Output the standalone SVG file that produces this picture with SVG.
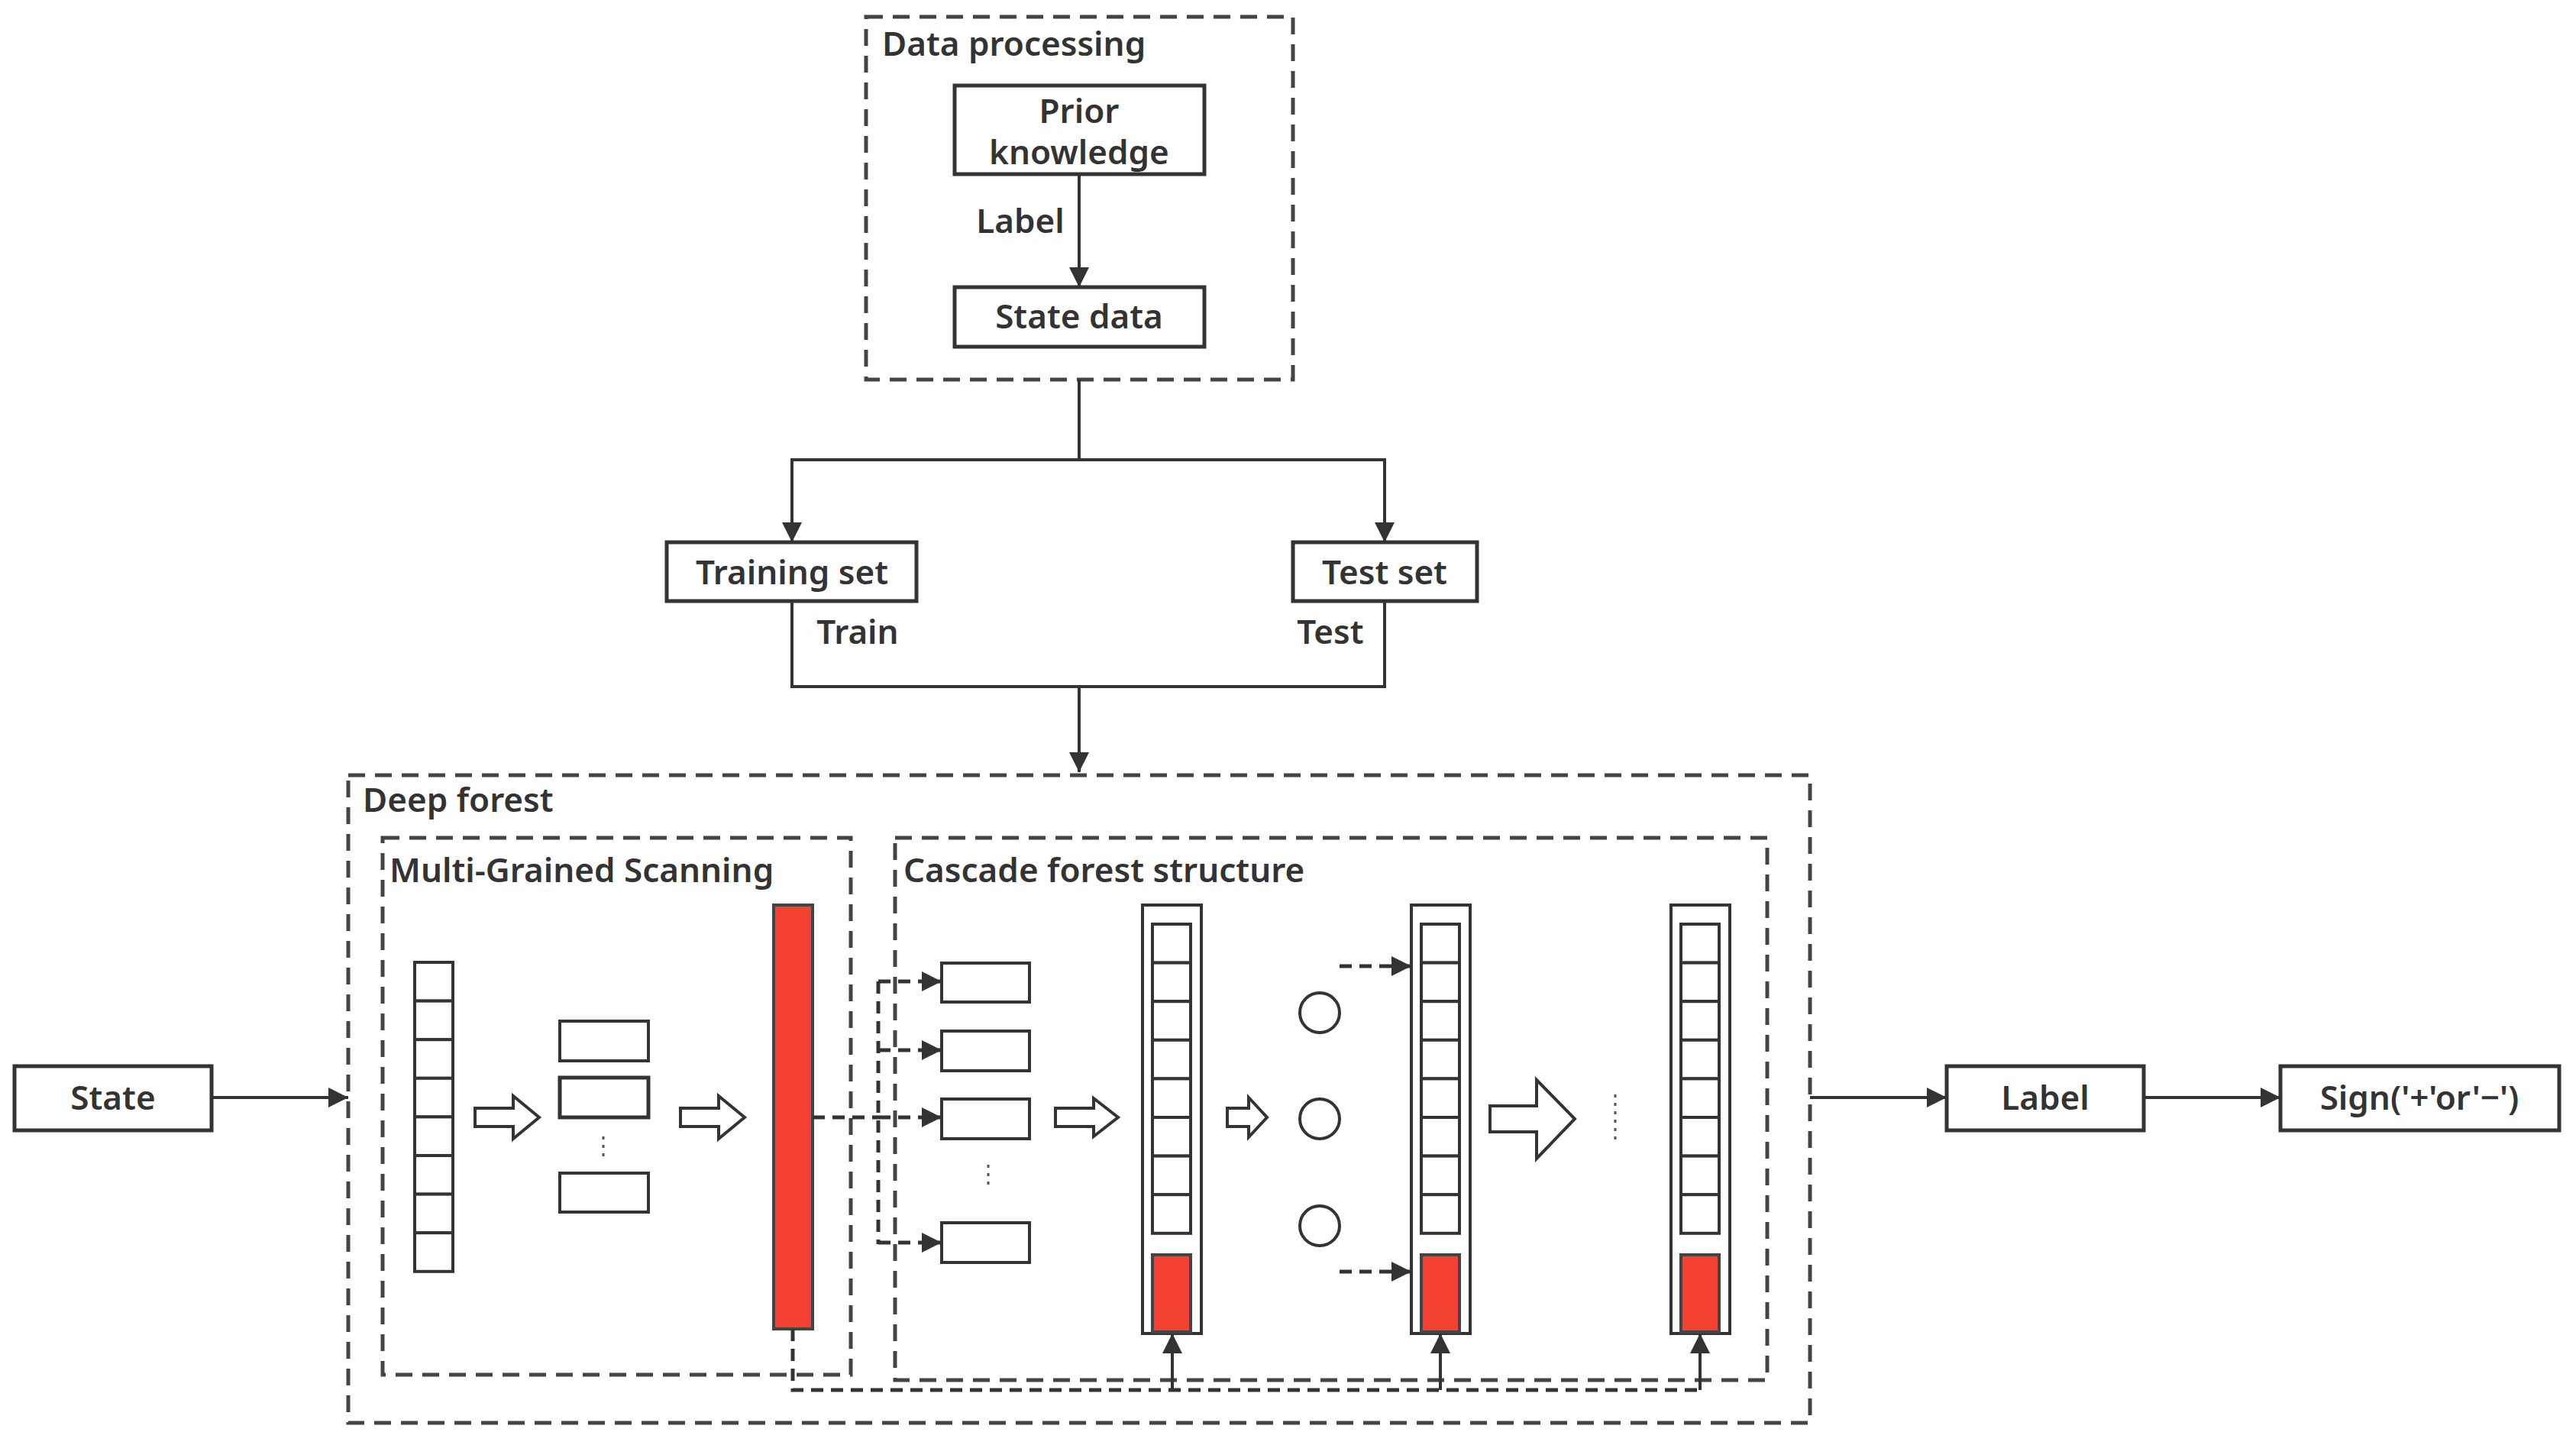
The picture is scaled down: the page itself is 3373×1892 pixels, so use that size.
<svg xmlns="http://www.w3.org/2000/svg" width="3373" height="1892" viewBox="0 0 3373 1892">
<style>
.b{fill:#fff;stroke:#333;stroke-width:5}
.d{fill:none;stroke:#444;stroke-width:5;stroke-dasharray:22 13}
.l{fill:none;stroke:#333;stroke-width:4}
.dl{fill:none;stroke:#333;stroke-width:5;stroke-dasharray:16 10}
.r{fill:#f44131;stroke:#444;stroke-width:4}
.c{fill:#fff;stroke:#333;stroke-width:4}
text{font-family:"Noto Sans","Open Sans",sans-serif;font-weight:600;font-size:44px;fill:#333}
.m{text-anchor:middle}
.dot{fill:none;stroke:#555;stroke-width:3;stroke-dasharray:4 7}
</style>
<defs>
<marker id="a" viewBox="0 0 10 10" refX="10" refY="5" markerWidth="6" markerHeight="6" orient="auto" markerUnits="userSpaceOnUse" style="overflow:visible"><path d="M0,0L10,5L0,10z" fill="#333"/></marker>
<marker id="A" viewBox="0 0 10 10" refX="10" refY="5" markerWidth="30" markerHeight="26" orient="auto" markerUnits="userSpaceOnUse"><path d="M0,0L10,5L0,10z" fill="#333"/></marker>
<g id="col"><rect class="c" x="0" y="0" width="50" height="50.6"/><rect class="c" x="0" y="50.6" width="50" height="50.6"/><rect class="c" x="0" y="101.2" width="50" height="50.6"/><rect class="c" x="0" y="151.8" width="50" height="50.6"/><rect class="c" x="0" y="202.4" width="50" height="50.6"/><rect class="c" x="0" y="253" width="50" height="50.6"/><rect class="c" x="0" y="303.6" width="50" height="50.6"/><rect class="c" x="0" y="354.2" width="50" height="50.6"/></g>
<g id="casc"><rect class="c" x="0" y="0" width="77" height="561"/><use href="#col" x="13" y="25"/><rect class="r" x="13" y="458" width="50" height="101"/></g>
</defs>
<g id="data-processing">
<rect class="d" x="1134" y="22" width="559" height="475"/>
<text x="1155" y="73">Data processing</text>
<rect class="b" x="1250" y="112" width="327" height="116"/>
<text class="m" x="1413" y="161">Prior</text><text class="m" x="1413" y="215">knowledge</text>
<rect class="b" x="1250" y="376" width="327" height="78"/>
<text class="m" x="1413" y="430">State data</text>
<text class="m" x="1336" y="305">Label</text>
</g>
<g id="training-set"><rect class="b" x="873" y="710" width="327" height="77"/><text class="m" x="1037" y="765">Training set</text><text class="m" x="1123" y="843">Train</text></g>
<g id="test-set"><rect class="b" x="1693" y="710" width="241" height="77"/><text class="m" x="1813" y="765">Test set</text><text class="m" x="1742" y="843">Test</text></g>
<g id="state"><rect class="b" x="19" y="1396" width="258" height="84"/><text class="m" x="148" y="1453">State</text></g>
<g id="label"><rect class="b" x="2549" y="1396" width="258" height="84"/><text class="m" x="2678" y="1453">Label</text></g>
<g id="sign"><rect class="b" x="2986" y="1396" width="365" height="84"/><text class="m" x="3168" y="1453">Sign('+'or'−')</text></g>
<g id="deep-forest">
<rect class="d" x="456" y="1015" width="1914" height="848"/>
<text x="475" y="1063">Deep forest</text>
</g>
<g id="multi-grained-scanning">
<rect class="d" x="501" y="1097" width="613" height="703"/>
<text x="510" y="1155">Multi-Grained Scanning</text>
<use href="#col" x="543" y="1260"/>
<path class="c" d="M622,1451h50v-16l34,28l-34,28v-16h-50z"/>
<rect class="c" x="733" y="1337" width="116" height="52"/>
<rect class="b" x="733" y="1411" width="116" height="52"/>
<rect class="c" x="733" y="1536" width="116" height="51"/>
<line class="dot" x1="790" y1="1488" x2="790" y2="1518"/>
<path class="c" d="M891,1451h50v-16l34,28l-34,28v-16h-50z"/>
<rect class="r" x="1013" y="1185" width="51" height="555"/>
</g>
<g id="cascade-forest-structure">
<rect class="d" x="1172" y="1097" width="1142" height="710"/>
<text x="1183" y="1155">Cascade forest structure</text>
<rect class="c" x="1233" y="1261" width="115" height="51"/>
<rect class="c" x="1233" y="1350" width="115" height="52"/>
<rect class="c" x="1233" y="1439" width="115" height="52"/>
<rect class="c" x="1233" y="1601" width="115" height="52"/>
<line class="dot" x1="1294" y1="1525" x2="1294" y2="1555"/>
<path class="c" d="M1382,1451h50v-13l32,25l-32,25v-13h-50z"/>
<use href="#casc" x="1496" y="1185"/>
<path class="c" d="M1607,1451h28v-14l24,26l-24,26v-14h-28z"/>
<circle class="c" cx="1728" cy="1326" r="26"/>
<circle class="c" cx="1728" cy="1465" r="26"/>
<circle class="c" cx="1728" cy="1605" r="26"/>
<use href="#casc" x="1848" y="1185"/>
<path class="c" d="M1951,1448h61v-34l50,51l-50,52v-35h-61z"/>
<line class="dot" x1="2115" y1="1433" x2="2115" y2="1495"/>
<use href="#casc" x="2188" y="1185"/>
</g>
<g id="connectors">
<line class="l" x1="1413" y1="228" x2="1413" y2="376" marker-end="url(#A)"/>
<path class="l" d="M1413,497V602"/>
<path class="l" d="M1037,710V602H1813V710"/>
<line class="l" x1="1037" y1="602" x2="1037" y2="710" marker-end="url(#A)"/>
<line class="l" x1="1813" y1="602" x2="1813" y2="710" marker-end="url(#A)"/>
<path class="l" d="M1037,787V899H1813V787"/>
<line class="l" x1="1413" y1="899" x2="1413" y2="1011" marker-end="url(#A)"/>
<line class="l" x1="277" y1="1437" x2="456" y2="1437" marker-end="url(#A)"/>
<line class="l" x1="2370" y1="1437" x2="2549" y2="1437" marker-end="url(#A)"/>
<line class="l" x1="2807" y1="1437" x2="2986" y2="1437" marker-end="url(#A)"/>
<path class="dl" d="M1064,1463H1150M1150,1285V1629"/>
<line class="dl" x1="1150" y1="1285" x2="1233" y2="1285" marker-end="url(#A)"/>
<line class="dl" x1="1150" y1="1375" x2="1233" y2="1375" marker-end="url(#A)"/>
<line class="dl" x1="1150" y1="1463" x2="1233" y2="1463" marker-end="url(#A)"/>
<line class="dl" x1="1150" y1="1627" x2="1233" y2="1627" marker-end="url(#A)"/>
<line class="dl" x1="1754" y1="1265" x2="1848" y2="1265" marker-end="url(#A)"/>
<line class="dl" x1="1754" y1="1665" x2="1848" y2="1665" marker-end="url(#A)"/>
<path class="dl" d="M1038,1740V1820H2226"/>
<line class="l" x1="1535" y1="1820" x2="1535" y2="1746" marker-end="url(#A)"/>
<line class="l" x1="1886" y1="1820" x2="1886" y2="1746" marker-end="url(#A)"/>
<line class="l" x1="2226" y1="1820" x2="2226" y2="1746" marker-end="url(#A)"/>
</g>
</svg>
